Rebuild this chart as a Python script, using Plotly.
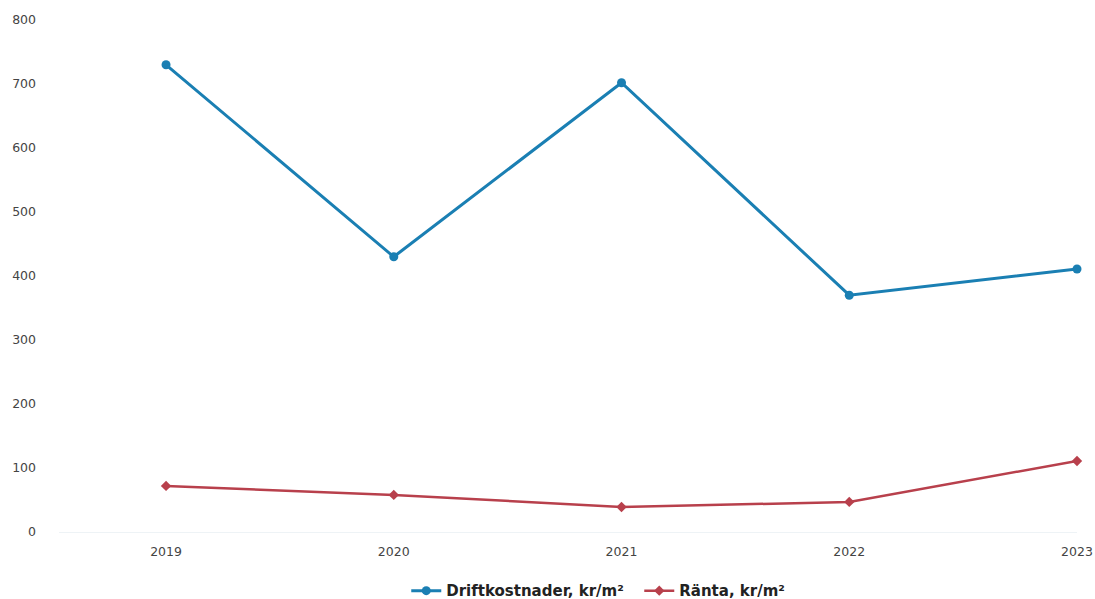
import plotly.graph_objects as go

years = ["2019", "2020", "2021", "2022", "2023"]
drift = [730, 430, 702, 370, 411]
ranta = [72, 58, 39, 47, 111]
y_ticks = [0, 100, 200, 300, 400, 500, 600, 700, 800]

fig = go.Figure()
fig.add_trace(go.Scatter(
    x=years, y=drift, name="Driftkostnader, kr/m²", mode="lines+markers",
    line=dict(color="#1a7fb3", width=3), marker=dict(symbol="circle", size=9, color="#1a7fb3"),
    cliponaxis=False,
))
fig.add_trace(go.Scatter(
    x=years, y=ranta, name="Ränta, kr/m²", mode="lines+markers",
    line=dict(color="#b8404c", width=2.5), marker=dict(symbol="diamond", size=8, color="#b8404c"),
    cliponaxis=False,
))

fig.update_layout(
    width=1095, height=599,
    margin=dict(l=59, r=18, t=20, b=67, autoexpand=False),
    paper_bgcolor="white", plot_bgcolor="white",
    font=dict(family="DejaVu Sans, sans-serif", color="#444"),
    showlegend=True,
    legend=dict(orientation="h", x=0.57, xanchor="center", y=-0.115, yanchor="middle",
                font=dict(size=15, color="#222", family="DejaVu Sans, sans-serif", weight="bold"),
                itemwidth=30, entrywidth=188, entrywidthmode="pixels"),
    xaxis=dict(type="category", range=[-0.47, 4.0], showgrid=False, zeroline=False,
               showline=False, ticks="", tickfont=dict(size=12.5, color="#444"),
               ticklabelstandoff=10),
    yaxis=dict(range=[0, 800], tickvals=y_ticks, showgrid=False, zeroline=True,
               zerolinecolor="#eef3f6", zerolinewidth=1, showline=False,
               tickfont=dict(size=12.5, color="#444"), ticklabelstandoff=22),
)

fig.write_html("out.html")
